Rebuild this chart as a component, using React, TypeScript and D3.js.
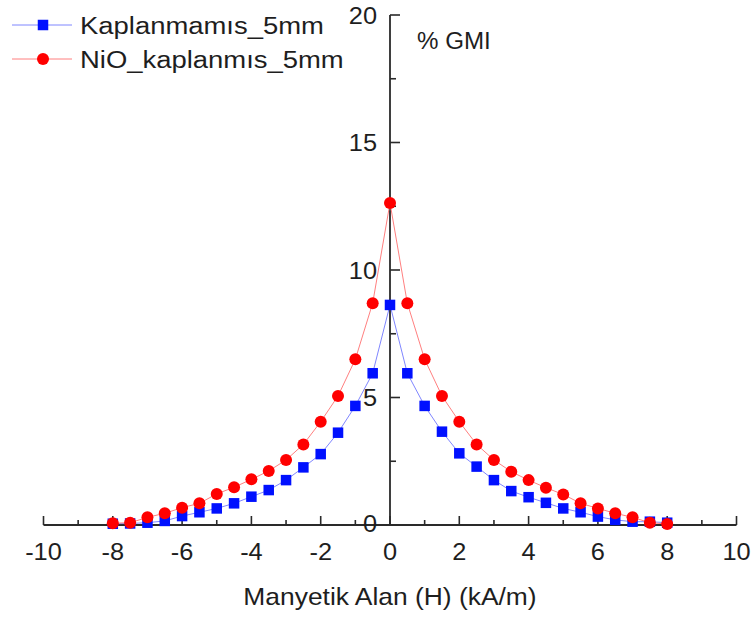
import React from "react";
import * as d3 from "d3";

const fieldH = [-8, -7.5, -7, -6.5, -6, -5.5, -5, -4.5, -4, -3.5, -3, -2.5, -2, -1.5, -1, -0.5, 0, 0.5, 1, 1.5, 2, 2.5, 3, 3.5, 4, 4.5, 5, 5.5, 6, 6.5, 7, 7.5, 8];
const kaplanmamis = [0.05, 0.06, 0.09, 0.16, 0.35, 0.5, 0.65, 0.85, 1.11, 1.37, 1.76, 2.26, 2.78, 3.62, 4.67, 5.95, 8.63, 5.95, 4.67, 3.66, 2.81, 2.29, 1.76, 1.33, 1.09, 0.87, 0.65, 0.5, 0.33, 0.2, 0.13, 0.13, 0.09];
const nioKaplanmis = [0.07, 0.09, 0.3, 0.46, 0.68, 0.85, 1.22, 1.48, 1.79, 2.12, 2.55, 3.16, 4.05, 5.06, 6.5, 8.7, 12.63, 8.7, 6.5, 5.06, 4.05, 3.16, 2.55, 2.09, 1.76, 1.46, 1.2, 0.85, 0.65, 0.46, 0.3, 0.09, 0.04];
const seriesNames = ["Kaplanmamıs_5mm", "NiO_kaplanmıs_5mm"];
const xTickValues = [-10, -8, -6, -4, -2, 0, 2, 4, 6, 8, 10];
const xMinorTicks = [-9, -7, -5, -3, -1, 1, 3, 5, 7, 9];
const yTickValues = [0, 5, 10, 15, 20];
const yMinorTicks = [2.5, 7.5, 12.5, 17.5];
const xTitle = "Manyetik Alan (H) (kA/m)";
const yTitle = "% GMI";

const FONT = "'Liberation Sans', Arial, sans-serif";
const SX = 1.12;

export default function App() {
  const x = d3.scaleLinear().domain([-10, 10]).range([43.5, 736.5]);
  const y = d3.scaleLinear().domain([0, 20]).range([525, 15]);
  const x0 = x(0);
  const y0 = y(0);

  const blueData = fieldH.map((h, i) => [h, kaplanmamis[i]] as [number, number]);
  const redData = fieldH.map((h, i) => [h, nioKaplanmis[i]] as [number, number]);
  const line = d3.line<[number, number]>().x((d) => x(d[0])).y((d) => y(d[1]));

  const axisColor = "#2a2a2a";
  const sq = 10.5;

  const T = (props: { x: number; y: number; anchor?: string; size: number; s?: number; children: any }) => (
    <text
      transform={`translate(${props.x},${props.y}) scale(${props.s ?? SX},1)`}
      textAnchor={props.anchor ?? "start"}
      fontSize={props.size}
      fontFamily={FONT}
      fill="#1e1e1e"
    >
      {props.children}
    </text>
  );

  return (
    <svg width={756} height={619} style={{ position: "absolute", left: 0, top: 0, background: "#fff" }}>
      <rect width={756} height={619} fill="#fff" />
      {/* x axis */}
      <line x1={x(-10)} x2={x(10)} y1={y0} y2={y0} stroke={axisColor} strokeWidth={1.8} />
      {xTickValues.map((t) => (
        <line key={"xt" + t} x1={x(t)} x2={x(t)} y1={y0} y2={y0 - 9} stroke={axisColor} strokeWidth={1.6} />
      ))}
      {xMinorTicks.map((t) => (
        <line key={"xm" + t} x1={x(t)} x2={x(t)} y1={y0} y2={y0 - 5} stroke={axisColor} strokeWidth={1.6} />
      ))}
      {/* y axis */}
      <line x1={x0} x2={x0} y1={y(0)} y2={y(20)} stroke={axisColor} strokeWidth={1.8} />
      {yTickValues.map((t) => (
        <line key={"yt" + t} x1={x0} x2={x0 + 10} y1={y(t)} y2={y(t)} stroke={axisColor} strokeWidth={1.6} />
      ))}
      {yMinorTicks.map((t) => (
        <line key={"ym" + t} x1={x0} x2={x0 + 6} y1={y(t)} y2={y(t)} stroke={axisColor} strokeWidth={1.6} />
      ))}

      {/* series lines */}
      <path d={line(blueData) || ""} fill="none" stroke="#7f86ff" strokeWidth={1} />
      {blueData.map((d, i) => (
        <rect key={"b" + i} x={x(d[0]) - sq / 2} y={y(d[1]) - sq / 2} width={sq} height={sq} fill="#0010ff" />
      ))}
      <path d={line(redData) || ""} fill="none" stroke="#ff7f7f" strokeWidth={1} />
      {redData.map((d, i) => (
        <circle key={"r" + i} cx={x(d[0])} cy={y(d[1])} r={6} fill="#ff0000" />
      ))}

      {/* tick labels */}
      {xTickValues.map((t) => (
        <T key={"xl" + t} x={x(t)} y={560} anchor="middle" size={23.5} s={1.08}>
          {t}
        </T>
      ))}
      {yTickValues.map((t) => (
        <T key={"yl" + t} x={377} y={y(t) + (t === 0 ? 7 : 8.5)} anchor="end" size={23.5} s={1.08}>
          {t}
        </T>
      ))}

      {/* titles */}
      <T x={390} y={605} anchor="middle" size={24} s={1.1}>
        {xTitle}
      </T>
      <T x={417} y={49} size={23} s={1.05}>
        {yTitle}
      </T>

      {/* legend */}
      <line x1={12} x2={72} y1={25} y2={25} stroke="#7f86ff" strokeWidth={1} />
      <rect x={43 - sq / 2} y={25 - sq / 2} width={sq} height={sq} fill="#0010ff" />
      <T x={80} y={34} size={24.5}>
        {seriesNames[0]}
      </T>
      <line x1={12} x2={72} y1={59} y2={59} stroke="#ff7f7f" strokeWidth={1} />
      <circle cx={43} cy={59} r={6} fill="#ff0000" />
      <T x={80} y={68} size={24.5}>
        {seriesNames[1]}
      </T>
    </svg>
  );
}
